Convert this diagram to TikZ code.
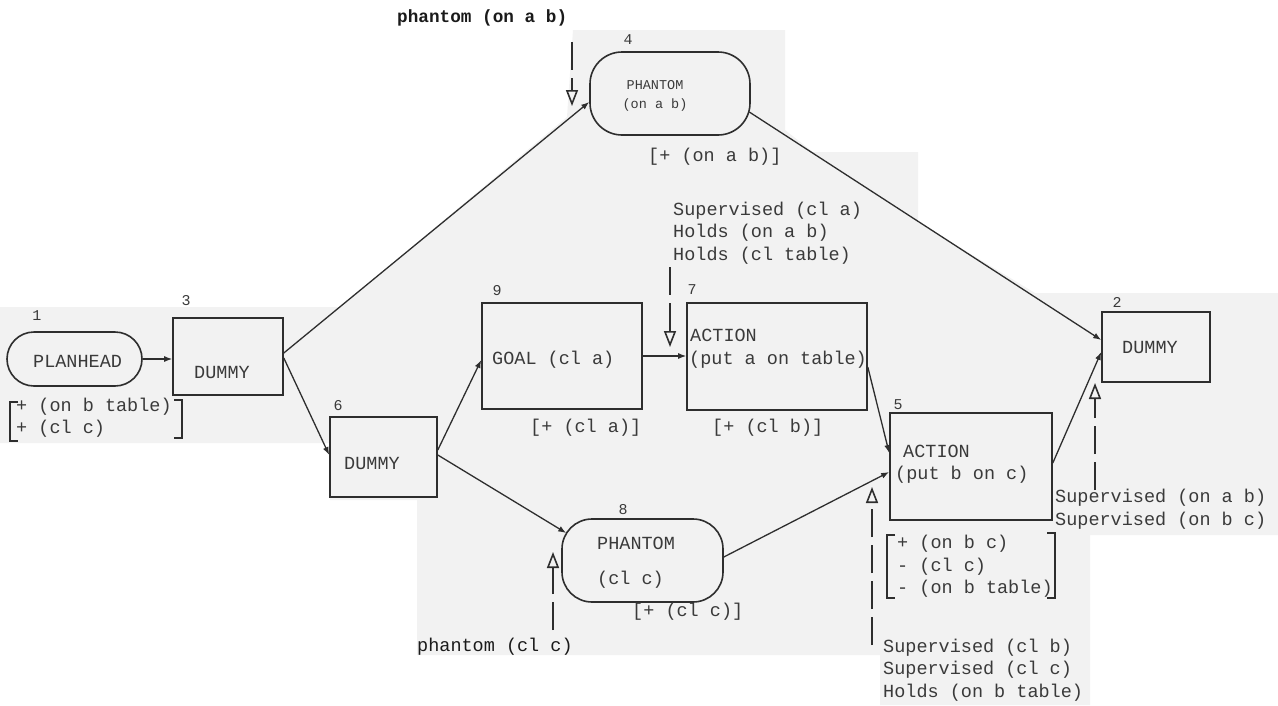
\documentclass[tikz,border=0pt]{standalone}
\usepackage{fontspec}
\usetikzlibrary{arrows.meta}
\newfontfamily\tw{Liberation Mono}
\definecolor{ink}{HTML}{2E2E2E}
\definecolor{txt}{HTML}{3A3A3A}
\definecolor{dark}{HTML}{1A1A1A}
\definecolor{paper}{HTML}{F2F2F2}
\tikzset{
  box/.style={draw=ink, line width=1.6pt, inner sep=0pt},
  stad/.style={box, rounded corners=#1},
  mono/.style={font=\tw\fontsize{18.5}{22.5}\selectfont, text=txt, inner sep=0pt, anchor=west, align=left},
  monosm/.style={font=\tw\fontsize{13.5}{19}\selectfont, text=txt, inner sep=0pt, align=center},
  boldlab/.style={font=\tw\bfseries\fontsize{17.7}{20}\selectfont, text=dark, inner sep=0pt, anchor=west},
  idx/.style={font=\tw\fontsize{15}{15}\selectfont, text=txt, inner sep=0pt},
  conn/.style={draw=ink, line width=1.3pt, -{Latex[length=8pt,width=6pt]}},
  dasharrow/.style={draw=ink, line width=1.8pt, dash pattern=on 28pt off 8pt, -{Triangle[open,length=16pt,width=12pt,line width=1.6pt]}},
  brk/.style={draw=ink, line width=1.4pt},
}
\begin{document}
\begin{tikzpicture}[x=1pt,y=-1pt]
\useasboundingbox (0,0) rectangle (1278,705);
% scanned paper patch
\fill[paper] (0,307) -- (340,307) -- (567,117) -- (573,30) -- (785,30) -- (785,130)
  -- (813,152) -- (918,152) -- (918,222) -- (1035,293) -- (1278,293) -- (1278,535) -- (1090,535) -- (1090,705)
  -- (880,705) -- (880,655) -- (417,655) -- (417,500) -- (330,500) -- (330,443) -- (0,443) -- cycle;

% nodes
\node[stad=27pt, minimum width=135pt, minimum height=54pt] (n1) at (74.5,359) {};
\node[box, minimum width=110pt, minimum height=77pt] (n3) at (228,356.5) {};
\node[box, minimum width=107pt, minimum height=80pt] (n6) at (383.5,457) {};
\node[box, minimum width=160pt, minimum height=106pt] (n9) at (562,356) {};
\node[box, minimum width=180pt, minimum height=107pt] (n7) at (777,356.5) {};
\node[stad=32pt, minimum width=160pt, minimum height=83pt] (n4) at (670,93.5) {};
\node[stad=30pt, minimum width=161pt, minimum height=83pt] (n8) at (642.5,560.5) {};
\node[box, minimum width=162pt, minimum height=107pt] (n5) at (971,466.5) {};
\node[box, minimum width=108pt, minimum height=70pt] (n2) at (1156,347) {};

% node texts
\node[mono] (l1) at (33,361) {PLANHEAD};
\node[mono] (l3) at (194,372) {DUMMY};
\node[mono] (l6) at (344,463) {DUMMY};
\node[mono] (l9) at (492,360) {GOAL (cl a)};
\node[mono] (l7) at (689,348.5) {\hspace*{1pt}ACTION\\(put a on table)};
\node[mono] (l5) at (895,464) {\hspace*{8pt}ACTION\\(put b on c)};
\node[mono] (l2) at (1122,347) {DUMMY};
\node[monosm] (l4) at (655,96) {PHANTOM\\(on a b)};
\node[mono] (l8) at (597,562.5) {PHANTOM\\[12pt](cl c)};

% indices
\node[idx] (k1) at (37,316) {1};
\node[idx] (k3) at (186,301) {3};
\node[idx] (k6) at (338,406) {6};
\node[idx] (k9) at (497,291) {9};
\node[idx] (k7) at (692,290) {7};
\node[idx] (k4) at (628,40) {4};
\node[idx] (k2) at (1117,302) {2};
\node[idx] (k5) at (898,405) {5};
\node[idx] (k8) at (623,510) {8};

% effects
\node[mono] (e1) at (16,417.5) {+ (on b table)\\+ (cl c)};
\draw[brk] (18,402) -- (10,402) -- (10,441) -- (18,441);
\draw[brk] (174,400) -- (182,400) -- (182,438) -- (174,438);
\node[mono] (e9) at (530,428) {[+ (cl a)]};
\node[mono] (e7) at (712,428) {[+ (cl b)]};
\node[mono] (e4) at (648,157) {[+ (on a b)]};
\node[mono] (e8) at (632,612) {[+ (cl c)]};
\node[mono] (e5) at (897,566.5) {+ (on b c)\\- (cl c)\\- (on b table)};
\draw[brk] (895,535) -- (887,535) -- (887,598) -- (895,598);
\draw[brk] (1047,533) -- (1055,533) -- (1055,598) -- (1047,598);

% conditions
\node[mono] (c7) at (673,233) {Supervised (cl a)\\Holds (on a b)\\Holds (cl table)};
\node[mono] (c2) at (1055,509) {Supervised (on a b)\\Supervised (on b c)};
\node[mono] (c5) at (883,670) {Supervised (cl b)\\Supervised (cl c)\\Holds (on b table)};
\node[mono, text=dark] (c8) at (417,647) {phantom (cl c)};
\node[boldlab] (c4) at (397,18) {phantom (on a b)};

% solid connectors
\draw[conn] (n1.east) -- (n1.east -| n3.west);
\draw[conn] ([yshift=3.5pt]n3.east) -- ([yshift=-8.5pt]n4.west);
\draw[conn] ([yshift=-1.5pt]n3.east) -- ([yshift=2pt]n6.west);
\draw[conn] ([yshift=7pt]n6.east) -- ([yshift=-4pt]n9.west);
\draw[conn] ([yshift=2pt]n6.east) -- ([xshift=5pt,yshift=27.5pt]n8.west);
\draw[conn] (n9.east) -- (n9.east -| n7.west);
\draw[conn] ([yshift=-10.5pt]n7.east) -- ([yshift=13.5pt]n5.west);
\draw[conn] ([yshift=3.5pt]n8.east) -- ([yshift=-5.5pt]n5.west);
\draw[conn] ([yshift=3.5pt]n5.east) -- ([yshift=-5pt]n2.west);
\draw[conn] ([xshift=-1.5pt,yshift=-18.5pt]n4.east) -- ([yshift=7pt]n2.west);

% dashed connectors
\coordinate (d4a) at (572,42);   \coordinate (d4b) at (572,106);
\coordinate (d7a) at (670,267);  \coordinate (d7b) at (670,347);
\coordinate (d8a) at (553,630);  \coordinate (d8b) at (553,552);
\coordinate (d5a) at (872,645);  \coordinate (d5b) at (872,487);
\coordinate (d2a) at (1095,490); \coordinate (d2b) at (1095,383);
\draw[dasharrow] (d4a) -- (d4b);
\draw[dasharrow] (d7a) -- (d7b);
\draw[dasharrow] (d8a) -- (d8b);
\draw[dasharrow] (d5a) -- (d5b);
\draw[dasharrow] (d2a) -- (d2b);
\end{tikzpicture}
\end{document}
